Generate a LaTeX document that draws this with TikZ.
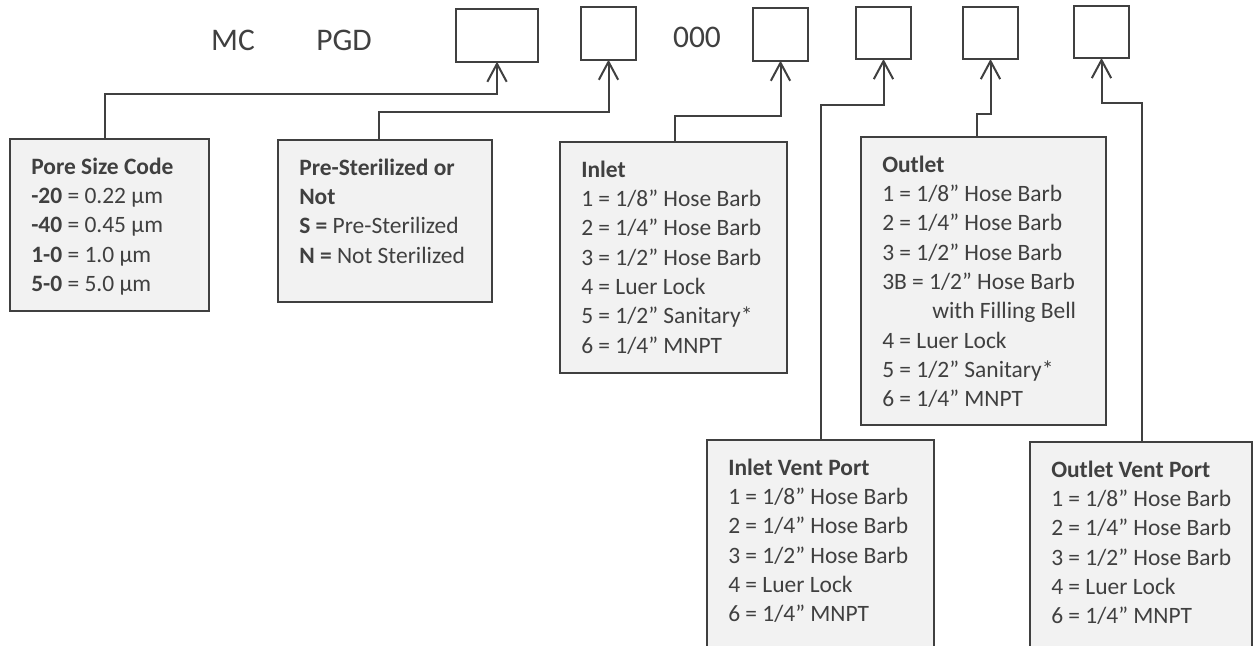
\documentclass[tikz,border=0pt]{standalone}
\usepackage{fontspec}
\setmainfont{Carlito}
\usetikzlibrary{arrows.meta,calc}
\definecolor{linegray}{HTML}{404040}
\definecolor{textgray}{HTML}{404040}
\definecolor{boxfill}{HTML}{F2F2F2}
\begin{document}
\begin{tikzpicture}[x=0.75pt,y=-0.75pt,
  codebox/.style={draw=linegray,line width=1.5pt,fill=white,inner sep=0pt,outer sep=0pt,anchor=north west,minimum height=39.5pt},
  infobox/.style={draw=linegray,line width=1.8pt,fill=boxfill,inner sep=0pt,outer sep=0pt,anchor=north west},
  infotext/.style={text=textgray,inner sep=0pt,anchor=base west,font=\fontsize{17.6}{22}\selectfont},
  toplabel/.style={text=textgray,inner sep=0pt,anchor=center,font=\fontsize{23.6}{28}\selectfont},
  conn/.style={draw=linegray,line width=1.5pt,-{Straight Barb[length=13.5pt,width=14.5pt,line width=1.5pt]}}
]
\clip (0,0) rectangle (1254,646);
\fill[white] (0,0) rectangle (1254,646);

% top code line
\node[toplabel] (mc) at (233,40.5) {MC};
\node[toplabel] (pgd) at (344,40.5) {PGD};
\node[toplabel] (zeros) at (697,37) {000};
\node[codebox,minimum width=61.5pt] (b1) at (456,9) {};
\node[codebox,minimum width=41.25pt] (b2) at (581,7) {};
\node[codebox,minimum width=41.25pt] (b3) at (753,8) {};
\node[codebox,minimum width=41.25pt,minimum height=39pt] (b4) at (856,7) {};
\node[codebox,minimum width=41.25pt,minimum height=39pt] (b5) at (963,7) {};
\node[codebox,minimum width=41.25pt,minimum height=39pt] (b6) at (1074,6) {};

% information boxes
\node[infobox,minimum width=149.25pt,minimum height=129pt] (pore) at (10,139) {};
\node[infobox,minimum width=160.5pt,minimum height=121.5pt] (pre) at (278,140) {};
\node[infobox,minimum width=170.25pt,minimum height=173.25pt] (inlet) at (560,142) {};
\node[infobox,minimum width=183.75pt,minimum height=216pt] (outlet) at (861,137) {};
\node[infobox,minimum width=170.25pt,minimum height=190pt] (ivent) at (707,440) {};
\node[infobox,minimum width=166.5pt,minimum height=190pt] (ovent) at (1030,442) {};

\node[infotext] (poret) at ($(pore.north west)+(21,35)$) {\begin{tabular}[t]{@{}l@{}}
\textbf{Pore Size Code}\\
\textbf{-20} = 0.22 µm\\
\textbf{-40} = 0.45 µm\\
\textbf{1-0} = 1.0 µm\\
\textbf{5-0} = 5.0 µm
\end{tabular}};

\node[infotext] (pret) at ($(pre.north west)+(21,35)$) {\begin{tabular}[t]{@{}l@{}}
\textbf{Pre-Sterilized or}\\
\textbf{Not}\\
\textbf{S =} Pre-Sterilized\\
\textbf{N =} Not Sterilized
\end{tabular}};

\node[infotext] (inlett) at ($(inlet.north west)+(21,35)$) {\begin{tabular}[t]{@{}l@{}}
\textbf{Inlet}\\
1 = 1/8” Hose Barb\\
2 = 1/4” Hose Barb\\
3 = 1/2” Hose Barb\\
4 = Luer Lock\\
5 = 1/2” Sanitary*\\
6 = 1/4” MNPT
\end{tabular}};

\node[infotext] (outlett) at ($(outlet.north west)+(21,35)$) {\begin{tabular}[t]{@{}l@{}}
\textbf{Outlet}\\
1 = 1/8” Hose Barb\\
2 = 1/4” Hose Barb\\
3 = 1/2” Hose Barb\\
3B = 1/2” Hose Barb\\
\hspace*{37.5pt}with Filling Bell\\
4 = Luer Lock\\
5 = 1/2” Sanitary*\\
6 = 1/4” MNPT
\end{tabular}};

\node[infotext] (iventt) at ($(ivent.north west)+(21,35)$) {\begin{tabular}[t]{@{}l@{}}
\textbf{Inlet Vent Port}\\
1 = 1/8” Hose Barb\\
2 = 1/4” Hose Barb\\
3 = 1/2” Hose Barb\\
4 = Luer Lock\\
6 = 1/4” MNPT
\end{tabular}};

\node[infotext] (oventt) at ($(ovent.north west)+(21,35)$) {\begin{tabular}[t]{@{}l@{}}
\textbf{Outlet Vent Port}\\
1 = 1/8” Hose Barb\\
2 = 1/4” Hose Barb\\
3 = 1/2” Hose Barb\\
4 = Luer Lock\\
6 = 1/4” MNPT
\end{tabular}};

% connectors
\draw[conn] ($(pore.north west)+(95,0)$) |- ($(b1.south)+(0,32)$) -- (b1.south);
\draw[conn] ($(pre.north west)+(101,0)$) |- ($(b2.south)+(0,52)$) -- (b2.south);
\draw[conn] ($(inlet.north west)+(115,0)$) |- ($(b3.south)+(0,55)$) -- (b3.south);
\draw[conn] ($(ivent.north west)+(114,0)$) |- ($(b4.south)+(0,46)$) -- (b4.south);
\draw[conn] ($(outlet.north west)+(116,0)$) |- ($(b5.south)+(0,55)$) -- (b5.south);
\draw[conn] ($(ovent.north west)+(112,0)$) |- ($(b6.south)+(0,45)$) -- (b6.south);
\end{tikzpicture}
\end{document}
